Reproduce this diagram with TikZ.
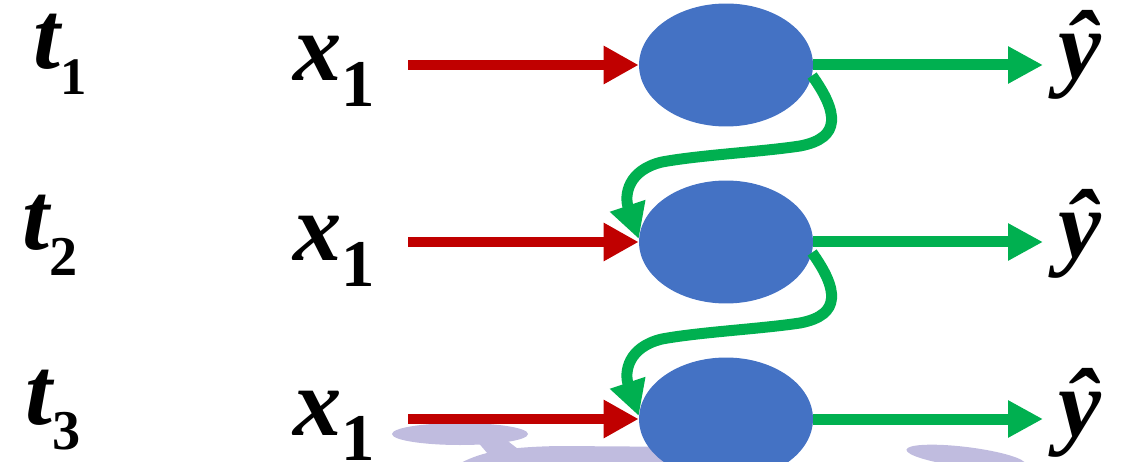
\documentclass[tikz,border=0pt]{standalone}
\usepackage{fontspec}
\setmainfont{Liberation Serif}
\newfontfamily\labfont{LiberationSerif-BoldItalic.ttf}
\newfontfamily\subfont{LiberationSerif-Bold.ttf}
\usetikzlibrary{arrows.meta,shapes.geometric}

\definecolor{cellblue}{HTML}{4472C4}
\definecolor{inred}{HTML}{C00000}
\definecolor{outgreen}{HTML}{00B050}
\definecolor{smudge}{HTML}{C0BCDF}

% bold italic symbol, upright bold subscript
\newcommand{\symb}[3]{{\fontsize{55}{60}\labfont #1}\raisebox{-14.5pt}{\fontsize{#3}{#3}\subfont #2}}
\newcommand{\yhat}{{\fontsize{55}{60}\labfont \^{y}}}

\tikzset{
    cell/.style={ellipse, fill=cellblue, minimum width=3.48cm, minimum height=2.46cm, inner sep=0pt},
    lab/.style={inner sep=0pt, anchor=base west},
    inarrow/.style={draw=inred, line width=0.2cm, -{Triangle[length=0.7cm,width=0.72cm]}},
    outarrow/.style={draw=outgreen, line width=0.22cm, -{Triangle[length=0.7cm,width=0.7cm]}},
}

\begin{document}
\begin{tikzpicture}[x=0.02cm, y=-0.02cm]
                \useasboundingbox (0,0) rectangle (1128,462);
                % light smudges along the bottom edge
                \fill[smudge] (460,434) ellipse [x radius=68, y radius=11];
                \fill[smudge] (476,440) -- (505,439) -- (522,452) -- (488,454) -- cycle;
                \fill[smudge] (455,466) .. controls (478,453) and (500,447) .. (560,446)
                    -- (700,447) .. controls (740,448) and (770,455) .. (790,466) -- cycle;
                \fill[smudge, rotate around={-7:(966,457)}] (966,457) ellipse [x radius=60, y radius=10];
                % cells
                \node[cell] (h1) at (726,65) {};
                \node[cell] (h2) at (726,242) {};
                \node[cell] (h3) at (726,419) {};
                % time steps
                \node[lab] (t1) at (33,69) {\symb{t}{1}{30}};
                \node[lab] (t2) at (22,250) {\symb{t}{2}{32}};
                \node[lab] (t3) at (25,424) {\symb{t}{3}{32}};
                % inputs
                \node[lab] (x1) at (293,81) {\symb{x}{1}{38}};
                \node[lab] (x2) at (293,261) {\symb{x}{1}{38}};
                \node[lab] (x3) at (293,435) {\symb{x}{1}{38}};
                % outputs
                \node[lab] (y1) at (1058,79) {\yhat};
                \node[lab] (y2) at (1058,258) {\yhat};
                \node[lab] (y3) at (1058,436) {\yhat};
                \draw[inarrow, shorten <=0.66cm] (x1.east |- h1.west) -- (h1.west);
                \draw[inarrow, shorten <=0.66cm] (x2.east |- h2.west) -- (h2.west);
                \draw[inarrow, shorten <=0.66cm] (x3.east |- h3.west) -- (h3.west);
                \draw[outarrow, shorten >=0.3cm] (h1.east) -- (h1.east -| y1.west);
                \draw[outarrow, shorten >=0.3cm] (h2.east) -- (h2.east -| y2.west);
                \draw[outarrow, shorten >=0.3cm] (h3.east) -- (h3.east -| y3.west);
                % hidden state passed down
                \draw[outarrow] (h1.-7) .. controls (838,112) and (842,138) .. (800,146)
                    .. controls (760,152) and (700,155) .. (662,162)
                    .. controls (628,170) and (624,195) .. (h2.178);
                \draw[outarrow] (h2.-7) .. controls (838,289) and (842,315) .. (800,323)
                    .. controls (760,329) and (700,332) .. (662,339)
                    .. controls (628,347) and (624,372) .. (h3.178);
            \end{tikzpicture}
\end{document}
